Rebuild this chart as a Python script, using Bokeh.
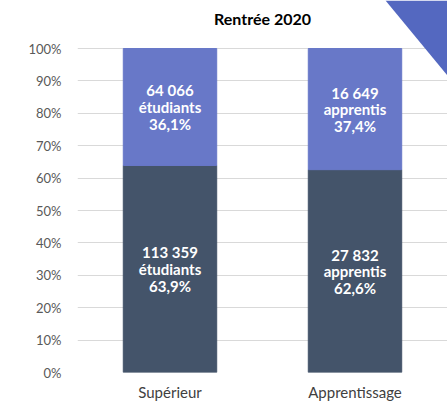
from bokeh.plotting import figure
from bokeh.models import ColumnDataSource, FactorRange, Range1d, PolyAnnotation, FixedTicker, Label
from bokeh.core.properties import value
from bokeh.embed import file_html
from bokeh.resources import INLINE

title = "Rentrée 2020"
categories = ["Supérieur", "Apprentissage"]
unit_names = ["étudiants", "apprentis"]
bottom_counts = [113359, 27832]
top_counts = [64066, 16649]
bottom_pct = [63.9, 62.6]
top_pct = [36.1, 37.4]
y_ticks = [0, 10, 20, 30, 40, 50, 60, 70, 80, 90, 100]

DARK = "#44546A"
LIGHT = "#6878C8"
FONT = "Lato"


def fmt_count(n):
    return f"{n:,}".replace(",", "\u202f")


def fmt_pct(v):
    return f"{v:.1f}%".replace(".", ",")


src = ColumnDataSource(dict(
    cat=categories,
    b0=[0] * len(categories),
    b1=bottom_pct,
    t1=[b + t for b, t in zip(bottom_pct, top_pct)],
    bmid=[b / 2 for b in bottom_pct],
    tmid=[b + t / 2 for b, t in zip(bottom_pct, top_pct)],
    blab=[f"{fmt_count(c)}\n{u}\n{fmt_pct(p)}" for c, u, p in zip(bottom_counts, unit_names, bottom_pct)],
    tlab=[f"{fmt_count(c)}\n{u}\n{fmt_pct(p)}" for c, u, p in zip(top_counts, unit_names, top_pct)],
))

# frame spans from canvas top (y=0) to the 0% line; 100% sits 48px below the top
p = figure(
    x_range=FactorRange(*categories, range_padding=0, start=0.005, end=1.97),
    y_range=Range1d(0, 100 * 372 / 324),
    frame_width=370, frame_height=372,
    min_border_left=77, min_border_right=0, min_border_top=0, min_border_bottom=30,
    output_backend="svg", toolbar_location=None,
)

p.add_layout(PolyAnnotation(xs=[385, 447, 447], ys=[0, 0, 75], xs_units="canvas", ys_units="canvas",
                            fill_color="#5468C0", fill_alpha=1.0, line_color=None, level="underlay"))

p.vbar(x="cat", bottom="b0", top="b1", width=0.505, color=DARK, source=src)
p.vbar(x="cat", bottom="b1", top="t1", width=0.505, color=LIGHT, source=src)

for col, mid in (("blab", "bmid"), ("tlab", "tmid")):
    p.text(x="cat", y=mid, text=col, source=src, text_align="center", text_baseline="middle",
           text_color="white", text_font=value(FONT), text_font_style="bold",
           text_font_size="15px", text_line_height=0.92)

p.add_layout(Label(x=262, y=18, x_units="canvas", y_units="canvas", text=title,
                   text_align="center", text_baseline="middle", text_font=FONT,
                   text_font_style="bold", text_font_size="16px", text_color="#000000"))

p.xgrid.grid_line_color = None
p.ygrid.grid_line_color = "#D9D9D9"
p.ygrid.grid_line_width = 1
p.outline_line_color = None
p.background_fill_color = "white"
p.border_fill_color = "white"

p.yaxis.ticker = FixedTicker(ticks=y_ticks)
p.yaxis.major_label_overrides = {t: f"{t}%" for t in y_ticks}
for ax in (p.xaxis, p.yaxis):
    ax.axis_line_color = None
    ax.major_tick_line_color = None
    ax.minor_tick_line_color = None
    ax.major_tick_out = 0
    ax.major_tick_in = 0
    ax.major_label_text_font = FONT
p.yaxis.major_label_text_font_size = "13px"
p.yaxis.major_label_text_color = "#595959"
p.yaxis.major_label_standoff = 16
p.xaxis.major_label_text_font_size = "15px"
p.xaxis.major_label_text_color = "#404040"
p.xaxis.major_label_standoff = 10

open("out.html", "w").write(file_html(p, INLINE))
